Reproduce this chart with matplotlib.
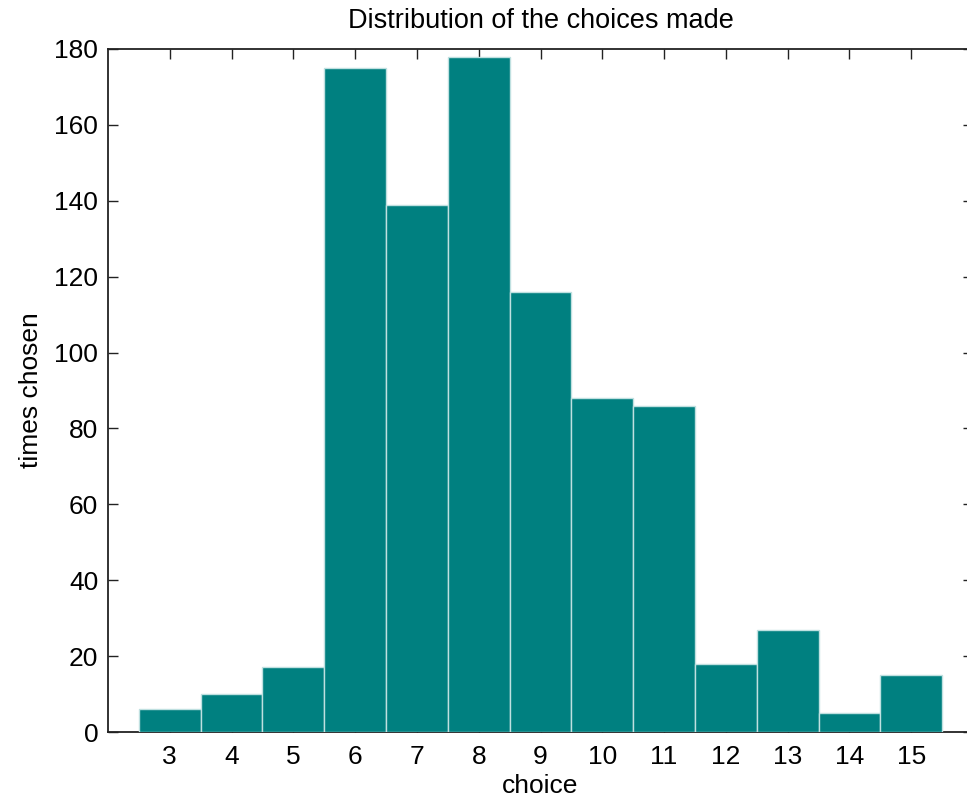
import matplotlib
matplotlib.use("Agg")
import matplotlib.pyplot as plt

# counts
choices = [3, 4, 5, 6, 7, 8, 9, 10, 11, 12, 13, 14, 15]
times_chosen = [6, 10, 17, 175, 139, 178, 116, 88, 86, 18, 27, 5, 15]
y_ticks = [0, 20, 40, 60, 80, 100, 120, 140, 160, 180]

plt.rcParams["font.family"] = ["Liberation Sans", "DejaVu Sans"]

fig = plt.figure(figsize=(9.67, 7.97), dpi=100)
# right spine falls just outside the canvas, as in the reference
ax = fig.add_axes([108 / 967, 65 / 797, 865 / 967, 683 / 797])

ax.bar(choices, times_chosen, width=1.0, color="#008080",
       edgecolor="#bfe0e0", linewidth=1.0, zorder=3)

ax.set_xlim(2, 16)
ax.set_ylim(0, 180)
ax.set_xticks(choices)
ax.set_yticks(y_ticks)

for side in ["left", "right", "top", "bottom"]:
    ax.spines[side].set_linewidth(1.3)
    ax.spines[side].set_color("#222222")

ax.tick_params(direction="in", length=7.5, width=1.0, color="#222222",
               top=True, right=True, labelsize=19, pad=7)
ax.tick_params(axis="x", pad=9)

ax.set_title("Distribution of the choices made", fontsize=19.5, pad=15)
ax.set_xlabel("choice", fontsize=19, labelpad=4)
ax.set_ylabel("times chosen", fontsize=19, labelpad=8)

fig.savefig("out.png", dpi=100)
